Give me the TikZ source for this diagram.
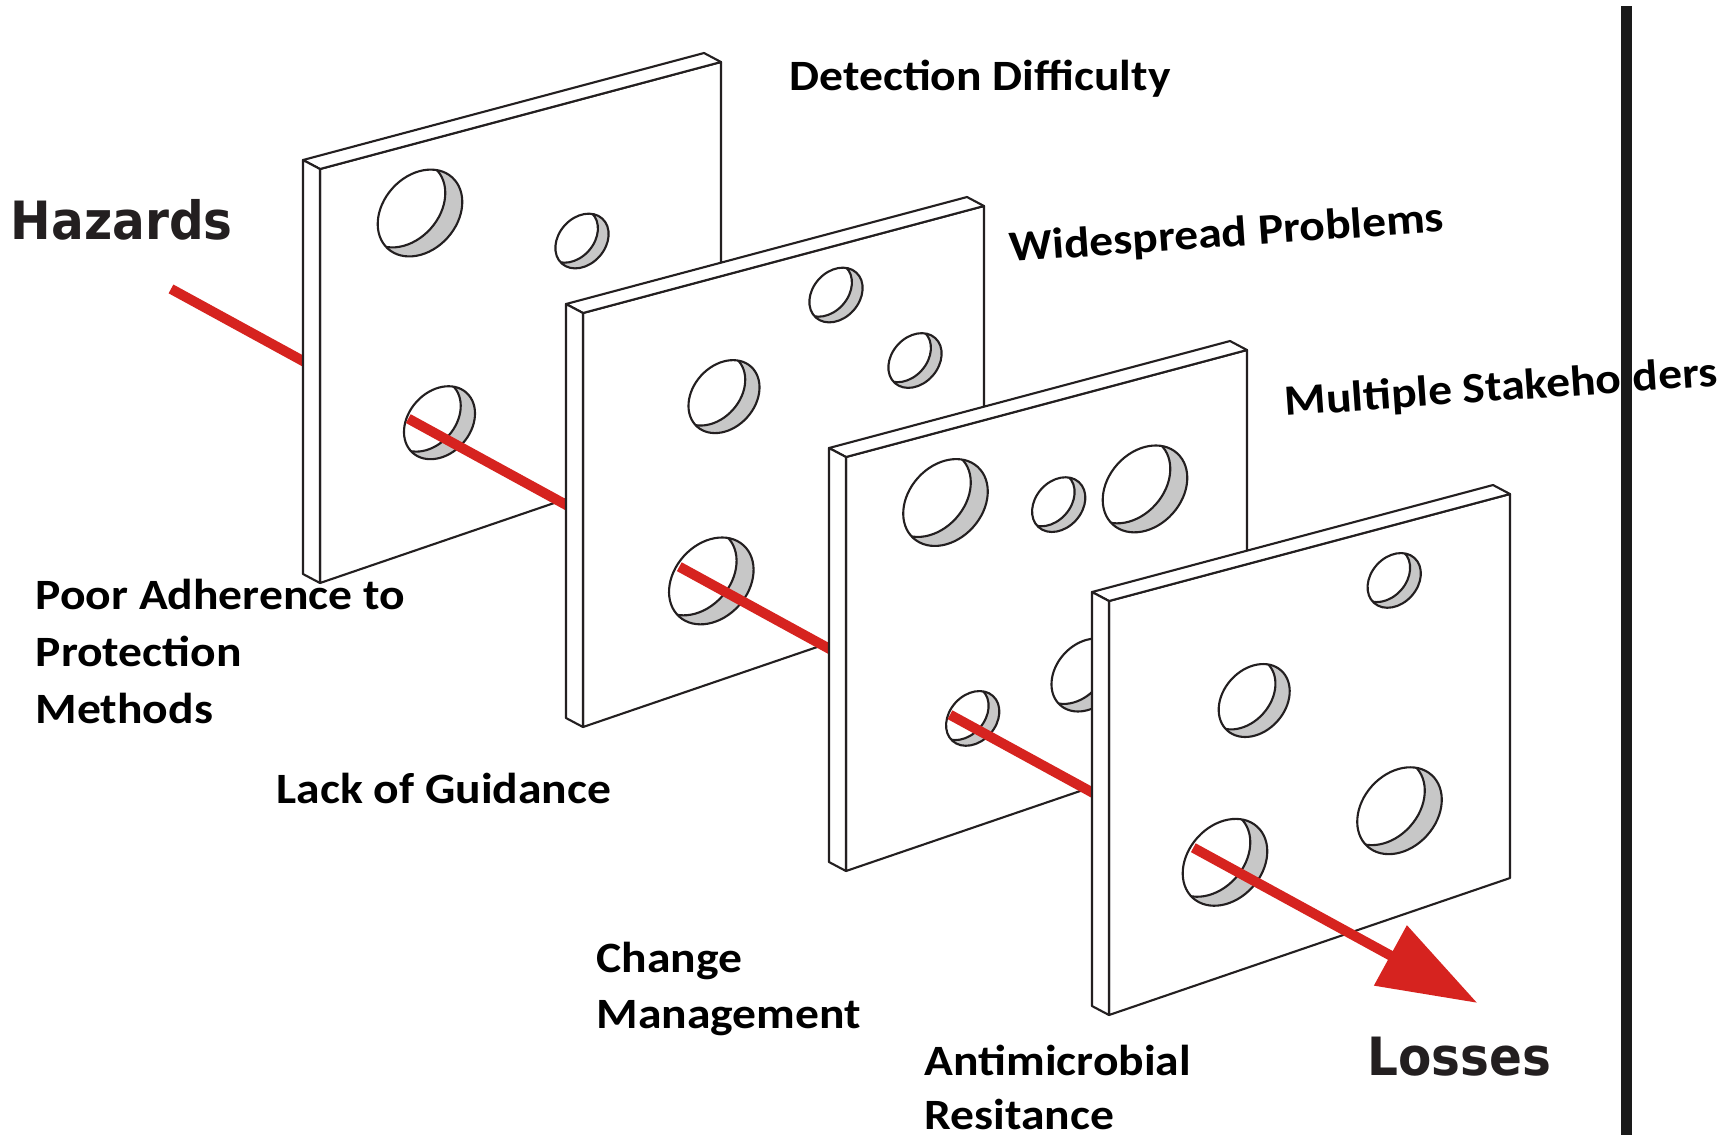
\documentclass[tikz,border=0pt]{standalone}
\usepackage{fontspec}
\setmainfont{Carlito}[FakeStretch=1.1]
\newfontfamily\signfont[FakeStretch=0.92]{DejaVu Sans}
\usetikzlibrary{arrows.meta}
\definecolor{holered}{RGB}{214,35,31}
\definecolor{inkdark}{RGB}{35,31,32}
\definecolor{wallgrey}{RGB}{199,199,199}
\definecolor{bargrey}{RGB}{26,26,26}

\begin{document}
\begin{tikzpicture}[x=0.01cm, y=-0.01cm,
		slabline/.style={draw=inkdark, line width=0.6pt, line join=round},
		slabface/.style={slabline, fill=white},
		redray/.style={draw=holered, line width=1mm},
		lbl/.style={font=\fontsize{12.3}{14}\selectfont\bfseries, anchor=base west, inner sep=0pt},
		endlbl/.style={font=\signfont\fontsize{15}{17}\selectfont\bfseries, text=inkdark, anchor=base west, inner sep=0pt},
		slab/.pic={
				\path[slabface] (0,0) -- (401,-107) -- (401,277) -- (0,414) -- cycle;
				\path[slabface] (-17,-9) -- (384,-116) -- (401,-107) -- (0,0) -- cycle;
				\path[slabface] (-17,-9) -- (0,0) -- (0,414) -- (-17,405) -- cycle;
			},
		hole/.pic={
				\fill[wallgrey] (0,0) circle[x radius=48, y radius=37, rotate=48];
				\begin{scope}
					\clip (0,0) circle[x radius=48, y radius=37, rotate=48];
					\path[slabface] (-17,-9) circle[x radius=48, y radius=37, rotate=48];
				\end{scope}
				\path[slabline] (0,0) circle[x radius=48, y radius=37, rotate=48];
			},
	]
	\path[use as bounding box, fill=white] (0,0) rectangle (1733,1135);

	\coordinate (hazin) at (171,288.9);
	\coordinate (edge1) at (320,370.3);
	\coordinate (in1) at (408.3,418.6);
	\coordinate (edge2) at (583,514.1);
	\coordinate (in2) at (679.3,566.7);
	\coordinate (edge3) at (846,657.9);
	\coordinate (in3) at (950,714.7);
	\coordinate (edge4) at (1109,801.6);
	\coordinate (in4) at (1193.3,847.7);
	\coordinate (lossout) at (1477.3,1002.9);

	\draw[redray] (hazin) -- (edge1);
	\pic at (320,169) {slab};
	\pic at (420,213) {hole};
	\pic[scale=0.63] at (582,241) {hole};
	\pic[scale=0.84] at (439.5,422.7) {hole};
	\draw[redray] (in1) -- (edge2);

	\pic at (583,313) {slab};
	\pic[scale=0.63] at (836,295) {hole};
	\pic[scale=0.63] at (915,360.5) {hole};
	\pic[scale=0.84] at (724,396.6) {hole};
	\pic at (711.3,580.9) {hole};
	\draw[redray] (in2) -- (edge3);

	\pic at (846,457) {slab};
	\pic at (945.5,502.5) {hole};
	\pic[scale=0.63] at (1058.7,504.6) {hole};
	\pic at (1145,488.9) {hole};
	\pic[scale=0.63] at (972.7,718.4) {hole};
	\pic[scale=0.84] at (1087,675) {hole};
	\draw[redray] (in3) -- (edge4);

	\pic at (1109,601) {slab};
	\pic[scale=0.63] at (1394.2,580.4) {hole};
	\pic[scale=0.84] at (1254.2,700.5) {hole};
	\pic at (1399.5,810.7) {hole};
	\pic at (1225,862.3) {hole};
	\draw[redray, -{Triangle[length=9.9mm, width=6.6mm]}] (in4) -- (lossout);

	\node[endlbl] (hazards) at (10,239) {Hazards};
	\node[endlbl] (losses) at (1367,1075) {Losses};
	\node[lbl] (detect) at (789,90) {Detection Difficulty};
	\node[lbl, rotate=4] (spread) at (1010,262) {Widespread Problems};
	\node[lbl, rotate=4] (stake) at (1285,416) {Multiple Stakeholders};
	\node[lbl] (poorA) at (35,609) {Poor Adherence to};
	\node[lbl] (poorB) at (35,666) {Protection};
	\node[lbl] (poorC) at (35,723) {Methods};
	\node[lbl] (guide) at (276,803) {Lack of Guidance};
	\node[lbl] (changeA) at (596,972) {Change};
	\node[lbl] (changeB) at (596,1028) {Management};
	\node[lbl] (amrA) at (924,1075) {Antimicrobial};
	\node[lbl] (amrB) at (924,1129) {Resitance};

	\fill[bargrey] (1621,6) rectangle (1632,1135);
\end{tikzpicture}
\end{document}
